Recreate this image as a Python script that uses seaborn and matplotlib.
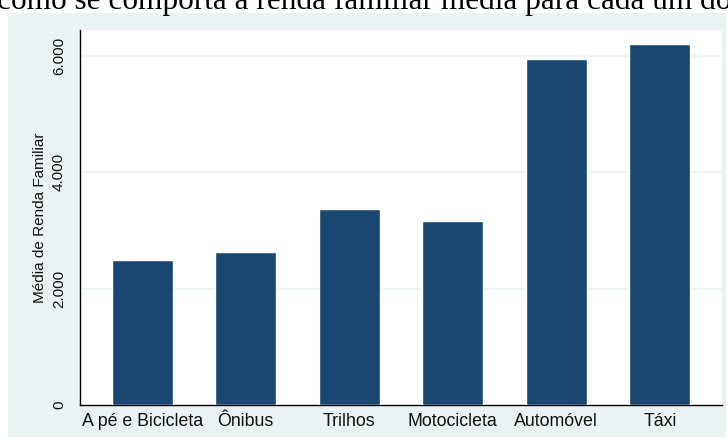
import matplotlib
matplotlib.use("Agg")
import matplotlib.pyplot as plt
import matplotlib.ticker as mticker
from matplotlib.patches import Rectangle
import pandas as pd
import seaborn as sns

categories = ["A pé e Bicicleta", "Ônibus", "Trilhos", "Motocicleta", "Automóvel", "Táxi"]
renda_media = [2490, 2630, 3365, 3160, 5940, 6200]
y_ticks = [0, 2000, 4000, 6000]

title_text = "como se comporta a renda familiar média para cada um dos"
y_label = "Média de Renda Familiar"

BAR_COLOR = "#1A476F"
PANEL_COLOR = "#EAF2F3"


def thousands(v, _pos):
    return f"{int(v):,}".replace(",", ".")


def main() -> None:
    sns.set_style("white")
    plt.rcParams["font.family"] = ["Liberation Sans", "DejaVu Sans"]

    W, H = 728, 438
    fig = plt.figure(figsize=(W / 100, H / 100), dpi=100, facecolor="white")

    # stata-like outer panel
    fig.patches.append(
        Rectangle(
            (8 / W, 1 - 437 / H), (726 - 8) / W, (437 - 13) / H,
            transform=fig.transFigure, facecolor=PANEL_COLOR, edgecolor="none", zorder=-5,
        )
    )

    ax = fig.add_axes([80 / W, 1 - 405 / H, (722 - 80) / W, (405 - 30) / H])
    ax.set_facecolor("white")

    df = pd.DataFrame({"modo": categories, "renda": renda_media})
    sns.barplot(data=df, x="modo", y="renda", color=BAR_COLOR, saturation=1,
                width=0.59, ax=ax, zorder=3)

    ax.set_xlim(-0.6, len(categories) - 0.4)
    ax.set_ylim(0, 6438)
    ax.set_yticks(y_ticks)
    ax.yaxis.set_major_formatter(mticker.FuncFormatter(thousands))
    for y in y_ticks[1:]:
        ax.axhline(y, color=PANEL_COLOR, lw=1.2, zorder=1)

    ax.set_xlabel("")
    ax.set_ylabel(y_label, fontsize=11, color="#111111", labelpad=4)

    for side in ["top", "right"]:
        ax.spines[side].set_visible(False)
    for side in ["left", "bottom"]:
        ax.spines[side].set_color("#000000")
        ax.spines[side].set_linewidth(1.0)

    ax.tick_params(axis="x", length=0, pad=6, labelsize=12.8, labelcolor="#111111")
    ax.tick_params(axis="y", length=7, width=1, color="#000000", pad=3,
                   labelsize=11, labelcolor="#111111", labelrotation=90)
    plt.setp(ax.get_yticklabels(), va="center")

    fig.text(-3 / W, 1 - 8.5 / H, title_text, fontsize=22.5, family="Liberation Serif",
             va="baseline", ha="left", color="black")

    fig.savefig("out.png", dpi=100, facecolor="white")
    plt.close(fig)


if __name__ == "__main__":
    main()
